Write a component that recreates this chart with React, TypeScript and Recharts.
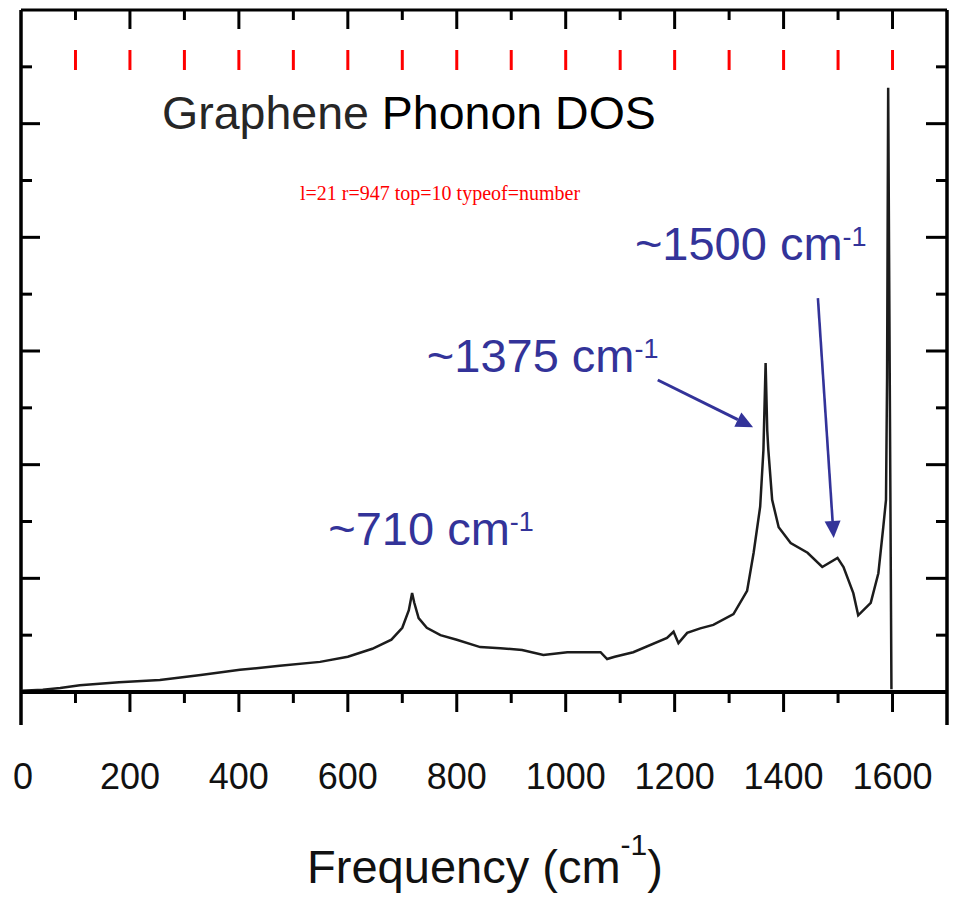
import React from 'react';
import { LineChart, Line, XAxis, YAxis, ReferenceDot, ReferenceLine } from 'recharts';

// phonon density of states (frequency in cm-1, DOS in tick units)
const freq = [
  0, 40, 72, 108, 180, 255, 330, 402, 475, 549, 600, 645, 680, 700, 712, 718, 722, 730, 745, 770,
  800, 843, 880, 920, 959, 1003, 1064, 1076, 1090, 1124, 1186, 1198, 1207, 1223, 1247, 1271, 1308,
  1333, 1345, 1357, 1363, 1367, 1370, 1372, 1379, 1391, 1413, 1444, 1471, 1499, 1510, 1528, 1537,
  1560, 1574, 1583, 1588, 1590, 1592, 1598,
];
const dos = [
  0.02, 0.04, 0.07, 0.12, 0.17, 0.21, 0.3, 0.39, 0.46, 0.53, 0.62, 0.76, 0.92, 1.13, 1.44, 1.74, 1.57, 1.3, 1.13, 1.0,
  0.92, 0.79, 0.77, 0.74, 0.65, 0.7, 0.7, 0.58, 0.62, 0.7, 0.95, 1.06, 0.86, 1.04, 1.12, 1.18, 1.37,
  1.78, 2.45, 3.26, 4.26, 5.79, 4.6, 4.26, 3.38, 2.9, 2.62, 2.45, 2.2, 2.36, 2.2, 1.74, 1.35,
  1.57, 2.09, 2.9, 3.38, 5.54, 10.63, 0.05,
];

const X_MAX = 1700;
const xTicks = [0, 100, 200, 300, 400, 500, 600, 700, 800, 900, 1000, 1100, 1200, 1300, 1400, 1500, 1600, 1700];
const yTicks = [0, 1, 2, 3, 4, 5, 6, 7, 8, 9, 10, 11, 12];

const peakLabels: [string, number, number][] = [
  ['~710 cm', 564, 2.59],
  ['~1375 cm', 745, 5.63],
  ['~1500 cm', 1127, 7.6],
];
const arrows = [
  { from: { x: 1169, y: 5.49 }, to: { x: 1344, y: 4.66 }, w: 3 },
  { from: { x: 1463, y: 6.93 }, to: { x: 1492, y: 2.71 }, w: 2.6 },
];

const data = freq.map((f, i) => ({ f, v: dos[i] }));

const FONT = '"Liberation Sans", Arial, Helvetica, sans-serif';
const BLUE = '#333399';

const BottomTick = (props: any) => {
  const { x, y, payload } = props;
  const v = payload.value;
  const major = v % 200 === 0;
  const edge = v === 0 || v === X_MAX;
  return (
    <g>
      {edge ? (
        <line x1={x} x2={x} y1={y} y2={y + 33} stroke="#000" strokeWidth={3.5} />
      ) : (
        <line x1={x} x2={x} y1={y} y2={y + (major ? 20 : 11)} stroke="#000" strokeWidth={3} />
      )}
      {major && v <= 1600 && (
        <text x={x + (v === 0 ? 2 : 0)} y={y + 97} textAnchor="middle" fontSize={36} fontFamily={FONT} fill="#111">
          {v}
        </text>
      )}
    </g>
  );
};

const topEdgeShape = (props: any) => {
  const { x1, x2, y1 } = props;
  const l = Math.min(Number(x1), Number(x2));
  const r = Math.max(Number(x1), Number(x2));
  const top = Number(y1);
  return (
    <g>
      <line x1={l} x2={r} y1={top} y2={top} stroke="#000" strokeWidth={3} />
      {xTicks
        .filter((v) => v > 0 && v < X_MAX)
        .map((v) => {
          const tx = l + ((r - l) * v) / X_MAX;
          return (
            <g key={v}>
              <line x1={tx} x2={tx} y1={top} y2={top + (v % 200 === 0 ? 19 : 10)} stroke="#000" strokeWidth={3} />
              <line x1={tx} x2={tx} y1={top + 40} y2={top + 60} stroke="red" strokeWidth={3} />
            </g>
          );
        })}
      <text x={300} y={200} fill="red" fontSize={20}>{`l=${l} r=${r} top=${top} typeof=${typeof y1}`}</text>
    </g>
  );
};

const sideTickShape = (major: boolean) => (props: any) => {
  const { x1, x2, y1 } = props;
  const l = Math.min(x1, x2);
  const r = Math.max(x1, x2);
  return (
    <g>
      <line x1={l} x2={l + (major ? 19 : 11)} y1={y1} y2={y1} stroke="#000" strokeWidth={3} />
      <line x1={r - (major ? 21 : 11)} x2={r} y1={y1} y2={y1} stroke="#000" strokeWidth={3} />
    </g>
  );
};

const axisTitle = (props: any) => {
  const vb = props.viewBox;
  return (
    <text x={vb.x + vb.width / 2 + 1} y={vb.y + 191} textAnchor="middle" fontSize={47} fontFamily={FONT} fill="#111">
      Frequency (cm
      <tspan fontSize={30} dy={-28}>-1</tspan>
      <tspan dy={28}>)</tspan>
    </text>
  );
};

const titleLabel = (props: any) => {
  const vb = props.viewBox;
  return (
    <text x={vb.x} y={vb.y} fontSize={46.5} fontFamily={FONT}>
      <tspan fill="#262626">Graphene</tspan>
      <tspan fill="#000"> Phonon DOS</tspan>
    </text>
  );
};

const peakLabel = (text: string) => (props: any) => {
  const vb = props.viewBox;
  return (
    <text x={vb.x} y={vb.y} fontSize={47} fontFamily={FONT} fill={BLUE}>
      {text}
      <tspan fontSize={27} dy={-14}>-1</tspan>
    </text>
  );
};

const arrowShape = (w: number) => (props: any) => {
  const { x1, y1, x2, y2 } = props;
  const dx = x2 - x1;
  const dy = y2 - y1;
  const len = Math.sqrt(dx * dx + dy * dy);
  const ux = dx / len;
  const uy = dy / len;
  const headLen = 17;
  const half = 8;
  const bx = x2 - ux * headLen;
  const by = y2 - uy * headLen;
  const pts = `${x2},${y2} ${bx - uy * half},${by + ux * half} ${bx + uy * half},${by - ux * half}`;
  return (
    <g>
      <line x1={x1} y1={y1} x2={bx} y2={by} stroke={BLUE} strokeWidth={w} />
      <polygon points={pts} fill={BLUE} />
    </g>
  );
};

export default function App() {
  return (
    <div style={{ position: 'absolute', left: 0, top: 0, background: '#fff' }}>
      <LineChart width={954} height={898} data={data} margin={{ top: 10, right: 7, left: 21, bottom: 0 }}>
        <XAxis
          xAxisId="b"
          dataKey="f"
          type="number"
          domain={[0, X_MAX]}
          ticks={xTicks}
          interval={0}
          height={206}
          tickSize={0}
          tickMargin={0}
          tickLine={false}
          tick={<BottomTick />}
          axisLine={{ stroke: '#000', strokeWidth: 4 }}
          label={axisTitle}
        />
        <YAxis yAxisId="l" type="number" domain={[0, 12]} hide />

        <ReferenceLine xAxisId="b" yAxisId="l" y={12} shape={topEdgeShape} />
        <ReferenceLine xAxisId="b" yAxisId="l" x={0} stroke="#000" strokeWidth={3.5} />
        <ReferenceLine xAxisId="b" yAxisId="l" x={X_MAX} stroke="#000" strokeWidth={3.5} />
        {yTicks
          .filter((v) => v > 0 && v < 12)
          .map((v) => (
            <ReferenceLine key={`ty${v}`} xAxisId="b" yAxisId="l" y={v} shape={sideTickShape(v % 2 === 0)} />
          ))}

        <Line
          xAxisId="b"
          yAxisId="l"
          type="linear"
          dataKey="v"
          stroke="#1c1c1c"
          strokeWidth={2.5}
          dot={false}
          activeDot={false}
          isAnimationActive={false}
        />
        <ReferenceDot xAxisId="b" yAxisId="l" x={259} y={9.9} r={0} label={titleLabel} />
        {peakLabels.map(([t, x, y]) => (
          <ReferenceDot key={t} xAxisId="b" yAxisId="l" x={x} y={y} r={0} label={peakLabel(t)} />
        ))}
        {arrows.map((a, i) => (
          <ReferenceLine key={i} xAxisId="b" yAxisId="l" segment={[a.from, a.to]} shape={arrowShape(a.w)} />
        ))}
      </LineChart>
    </div>
  );
}
